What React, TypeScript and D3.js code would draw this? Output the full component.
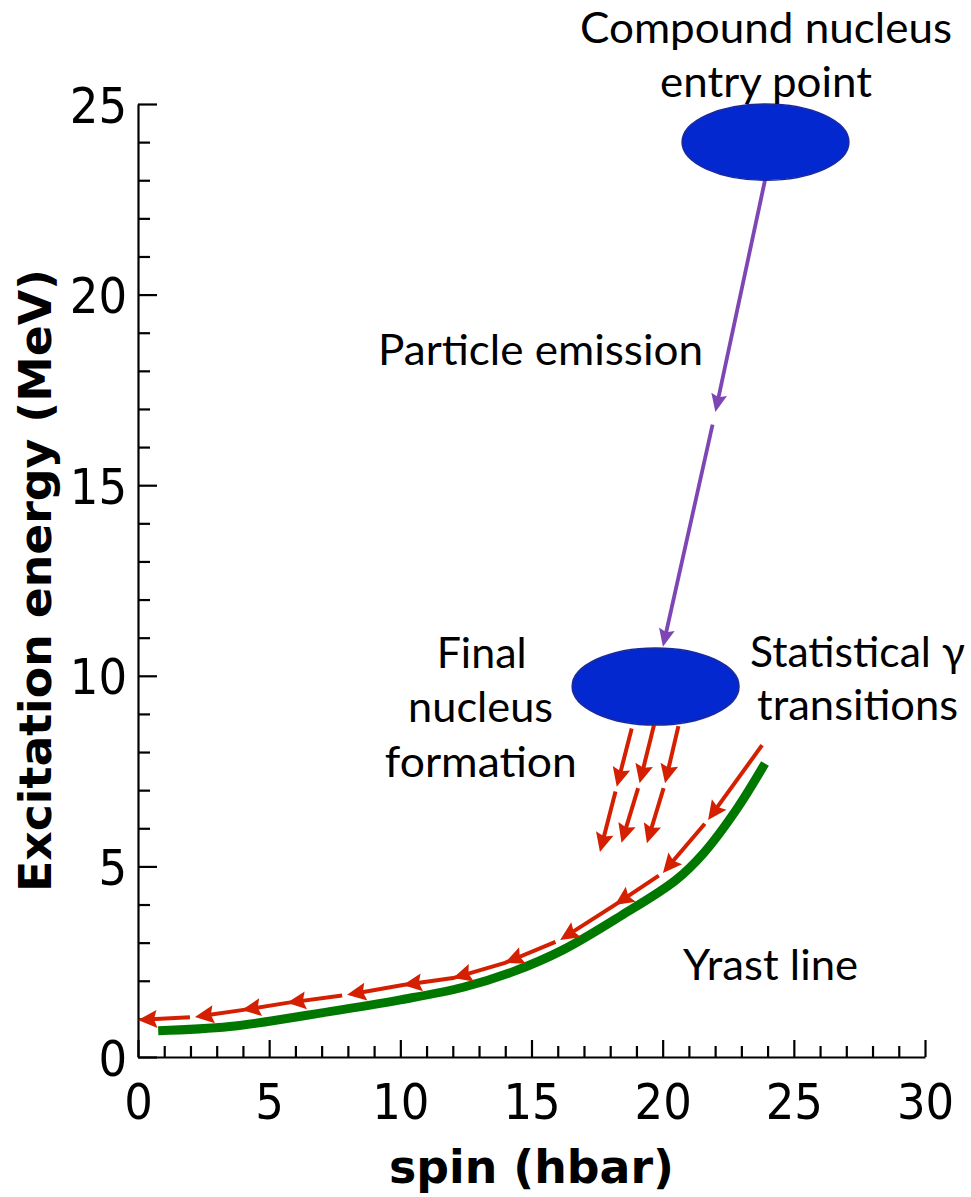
import React, { useEffect, useRef } from "react";
import * as d3 from "d3";

const W = 971;
const H = 1197;

// axes
const spinDomain = [0, 30];
const energyDomain = [0, 25];
const xMajorTicks = [0, 5, 10, 15, 20, 25, 30];
const yMajorTicks = [0, 5, 10, 15, 20, 25];
const xMinorTicks = [1, 2, 3, 4, 6, 7, 8, 9, 11, 12, 13, 14, 16, 17, 18, 19, 21, 22, 23, 24, 26, 27, 28, 29];
const yMinorTicks = [1, 2, 3, 4, 6, 7, 8, 9, 11, 12, 13, 14, 16, 17, 18, 19, 21, 22, 23, 24];
const xTitle = "spin (hbar)";
const yTitle = "Excitation energy (MeV)";

// yrast line (green)
const yrastSpin = [0.77, 3.5, 7.3, 10.0, 12.4, 14.3, 16.2, 18.4, 20.5, 21.55, 22.8, 23.9];
const yrastEnergy = [0.69, 0.8, 1.19, 1.5, 1.83, 2.24, 2.81, 3.7, 4.64, 5.34, 6.48, 7.7];

// statistical gamma cascade (red, arrows at vertices)
const cascadeSpin = [23.79, 21.73, 20.01, 18.18, 16.09, 13.99, 12.01, 10.1, 7.97, 5.68, 3.96, 2.17, 0.0];
const cascadeEnergy = [8.18, 6.22, 4.83, 3.99, 3.07, 2.47, 2.07, 1.89, 1.63, 1.42, 1.23, 1.05, 0.97];
const cascadeBreaks = [1, 2, 4, 8, 11];

// particle emission (purple)
const emissionSpin = [23.9, 22.01, 20.01];
const emissionEnergy = [23.0, 16.92, 10.76];
const emissionBreaks = [1];

// final-nucleus feeding arrows (red)
const feedStartSpin = [18.82, 19.67, 20.6];
const feedStartEnergy = [8.62, 8.71, 8.68];
const feedMidSpin = [18.25, 19.12, 20.09];
const feedMidEnergy = [7.09, 7.18, 7.18];
const feedEndSpin = [17.61, 18.43, 19.4];
const feedEndEnergy = [5.38, 5.62, 5.61];

// nuclei (ellipses)
const nucleusSpin = [23.92, 19.73];
const nucleusEnergy = [24.0, 9.72];
const nucleusSpinRadius = [3.18, 3.18];
const nucleusEnergyRadius = [1.0, 1.01];

// annotations
const labelText = ["Compound nucleus", "entry point", "Particle emission", "Final", "nucleus", "formation", "Statistical γ", "transitions", "Yrast line"];
const labelSpin = [23.94, 23.94, 9.15, 13.1, 13.06, 13.07, 23.33, 23.6, 20.78];
const labelEnergy = [26.6, 25.18, 18.15, 10.2, 8.8, 7.35, 10.23, 8.84, 2.02];
const labelAnchor = ["middle", "middle", "start", "middle", "middle", "middle", "start", "start", "start"];
const labelLength = [372, 212, 325, 90, 145, 192, 215, 201, 175];

const RED = "#d42000";
const GREEN = "#007800";
const PURPLE = "#7e46b4";
const BLUE = "#0328cf";

const x = d3.scaleLinear().domain(spinDomain).range([138, 925]);
const y = d3.scaleLinear().domain(energyDomain).range([1057, 104]);

type P = [number, number];

function headPath(tip: P, from: P, len: number, hw: number, notch: number) {
  const a = Math.atan2(tip[1] - from[1], tip[0] - from[0]);
  const ux = Math.cos(a), uy = Math.sin(a);
  const px = -uy, py = ux;
  const bx = tip[0] - ux * len, by = tip[1] - uy * len;
  const nx = tip[0] - ux * (len - notch), ny = tip[1] - uy * (len - notch);
  return `M${tip[0]},${tip[1]}L${bx + px * hw},${by + py * hw}L${nx},${ny}L${bx - px * hw},${by - py * hw}Z`;
}

function chain(spins: number[], energies: number[], breaks: number[], gap: number, len: number, hw: number) {
  const pts: P[] = spins.map((s, i) => [x(s), y(energies[i])]);
  const lines: string[] = [];
  const heads: string[] = [];
  let seg: P[] = [pts[0]];
  for (let i = 1; i < pts.length; i++) {
    seg.push(pts[i]);
    heads.push(headPath(pts[i], pts[i - 1], len, hw, 3));
    if (breaks.includes(i) || i === pts.length - 1) {
      const last = seg[seg.length - 1];
      const prev = seg[seg.length - 2];
      const a = Math.atan2(last[1] - prev[1], last[0] - prev[0]);
      const trimmed = seg.slice(0, -1).concat([[last[0] - Math.cos(a) * 8, last[1] - Math.sin(a) * 8] as P]);
      lines.push(d3.line()(trimmed) as string);
      if (i < pts.length - 1) {
        const nxt = pts[i + 1];
        const b = Math.atan2(nxt[1] - pts[i][1], nxt[0] - pts[i][0]);
        seg = [[pts[i][0] + Math.cos(b) * gap, pts[i][1] + Math.sin(b) * gap]];
      }
    }
  }
  return { lines, heads };
}

export default function App() {
  const axesRef = useRef<SVGGElement>(null);

  useEffect(() => {
    const g = d3.select(axesRef.current);
    g.selectAll("*").remove();
    const font = "'DejaVu Sans Condensed', 'DejaVu Sans', sans-serif";

    const xAxis = g.append("g").attr("transform", `translate(0,${y(0)})`)
      .call(d3.axisBottom(x).tickValues(xMajorTicks).tickSize(-17).tickSizeOuter(0).tickPadding(26).tickFormat(d3.format("d")));
    const xMinor = g.append("g").attr("transform", `translate(0,${y(0)})`)
      .call(d3.axisBottom(x).tickValues(xMinorTicks).tickSize(-11).tickSizeOuter(0).tickFormat(() => ""));
    xMinor.select(".domain").remove();

    const yAxis = g.append("g").attr("transform", `translate(${x(0)},0)`)
      .call(d3.axisLeft(y).tickValues(yMajorTicks).tickSize(-19).tickSizeOuter(0).tickPadding(11).tickFormat(d3.format("d")));
    const yMinor = g.append("g").attr("transform", `translate(${x(0)},0)`)
      .call(d3.axisLeft(y).tickValues(yMinorTicks).tickSize(-12).tickSizeOuter(0).tickFormat(() => ""));
    yMinor.select(".domain").remove();

    [xAxis, yAxis, xMinor, yMinor].forEach((a) => {
      a.selectAll("path.domain").attr("stroke", "#000").attr("stroke-width", 2.2);
      a.selectAll(".tick line").attr("stroke", "#000").attr("stroke-width", 2.2);
      a.selectAll("text").attr("font-family", font).attr("font-size", 50).attr("fill", "#000");
    });
    yAxis.selectAll("text").attr("dy", "0.36em");
  }, []);

  const cascade = chain(cascadeSpin, cascadeEnergy, cascadeBreaks, 5, 19, 9);
  const emission = chain(emissionSpin, emissionEnergy, emissionBreaks, 13, 18, 8);
  const feeds = feedStartSpin.map((s, i) =>
    chain([s, feedMidSpin[i], feedEndSpin[i]], [feedStartEnergy[i], feedMidEnergy[i], feedEndEnergy[i]], [1], 5, 19, 9)
  );

  const yrastLine = d3.line<number>()
    .x((d, i) => x(yrastSpin[i]))
    .y((d, i) => y(yrastEnergy[i]))
    .curve(d3.curveCatmullRom.alpha(0.5));

  const annFont = "Lato, 'Open Sans', sans-serif";
  const titleFont = "'DejaVu Sans', sans-serif";

  return (
    <svg width={W} height={H} style={{ position: "absolute", left: 0, top: 0, background: "#fff" }}>
      <rect x={0} y={0} width={W} height={H} fill="#fff" />
      <g ref={axesRef} />

      <path d={yrastLine(yrastSpin) as string} fill="none" stroke={GREEN} strokeWidth={9} />

      {cascade.lines.map((d, i) => (
        <path key={"cl" + i} d={d} fill="none" stroke={RED} strokeWidth={4} />
      ))}
      {cascade.heads.map((d, i) => (
        <path key={"ch" + i} d={d} fill={RED} />
      ))}

      {feeds.map((f, k) => (
        <g key={"f" + k}>
          {f.lines.map((d, i) => <path key={i} d={d} fill="none" stroke={RED} strokeWidth={4} />)}
          {f.heads.map((d, i) => <path key={"h" + i} d={d} fill={RED} />)}
        </g>
      ))}

      {emission.lines.map((d, i) => (
        <path key={"el" + i} d={d} fill="none" stroke={PURPLE} strokeWidth={3.8} />
      ))}
      {emission.heads.map((d, i) => (
        <path key={"eh" + i} d={d} fill={PURPLE} />
      ))}

      {nucleusSpin.map((s, i) => (
        <ellipse
          key={"n" + i}
          cx={x(s)}
          cy={y(nucleusEnergy[i])}
          rx={x(s + nucleusSpinRadius[i]) - x(s)}
          ry={y(nucleusEnergy[i] - nucleusEnergyRadius[i]) - y(nucleusEnergy[i])}
          fill={BLUE}
          stroke="#1a2a9c"
          strokeWidth={1.5}
        />
      ))}

      {labelText.map((t, i) => (
        <text
          key={"t" + i}
          x={x(labelSpin[i])}
          y={y(labelEnergy[i])}
          textAnchor={labelAnchor[i]}
          fontFamily={annFont}
          fontSize={43}
          fill="#000"
          textLength={labelLength[i]}
          lengthAdjust="spacingAndGlyphs"
        >
          {t}
        </text>
      ))}

      <text
        x={(x(spinDomain[0]) + x(spinDomain[1])) / 2}
        y={1183}
        textAnchor="middle"
        fontFamily={titleFont}
        fontWeight="bold"
        fontSize={46}
        fill="#000"
        textLength={285}
        lengthAdjust="spacingAndGlyphs"
      >
        {xTitle}
      </text>
      <text
        transform={`translate(51,${(y(0) + y(25)) / 2 + 0}) rotate(-90)`}
        x={0}
        y={0}
        textAnchor="middle"
        fontFamily={titleFont}
        fontWeight="bold"
        fontSize={45}
        fill="#000"
        textLength={623}
        lengthAdjust="spacingAndGlyphs"
      >
        {yTitle}
      </text>
    </svg>
  );
}
